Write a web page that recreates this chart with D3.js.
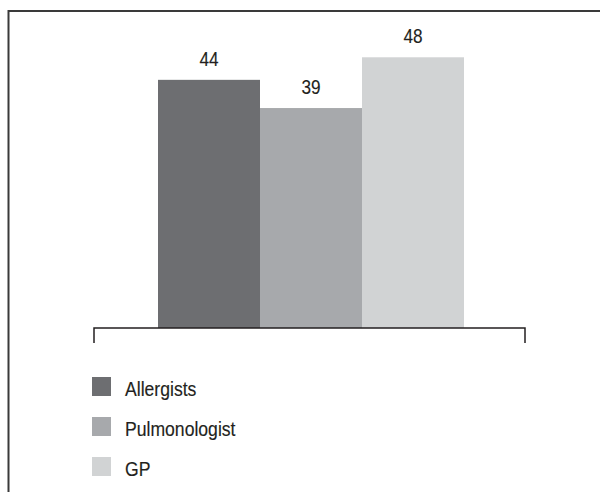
<!DOCTYPE html>
<html><head><meta charset="utf-8">
<script src="https://cdn.jsdelivr.net/npm/d3@7"></script>
<style>
html,body{margin:0;padding:0;background:#fff;}
text{font-family:"Liberation Sans",Arial,sans-serif;fill:#231f20;stroke:#231f20;stroke-width:0.15px;}
</style></head>
<body>
<svg id="c" width="600" height="492"></svg>
<script>
const categories = ["Allergists", "Pulmonologist", "GP"];
const values = [44, 39, 48];
const colors = ["#6d6e71", "#a7a9ac", "#d1d3d4"];

const svg = d3.select("#c");
// frame (top and left edges visible)
svg.append("line").attr("x1",8).attr("x2",600).attr("y1",11).attr("y2",11).attr("stroke","#3a3a3a").attr("stroke-width",2);
svg.append("line").attr("x1",8.5).attr("x2",8.5).attr("y1",10).attr("y2",492).attr("stroke","#3a3a3a").attr("stroke-width",2);

const x = d3.scaleBand().domain(categories).range([158, 464]).padding(0);
const y = d3.scaleLinear().domain([0, 50]).range([328, 46]);
const sx = 0.86;

svg.selectAll("rect.bar").data(categories).enter().append("rect")
  .attr("class","bar")
  .attr("x", d => x(d)).attr("width", x.bandwidth())
  .attr("y", (d,i) => y(values[i])).attr("height", (d,i) => y(0) - y(values[i]))
  .attr("fill", (d,i) => colors[i]);

svg.selectAll("text.val").data(categories).enter().append("text")
  .attr("class","val")
  .attr("transform", (d,i) => `translate(${x(d) + x.bandwidth()/2},${y(values[i]) - 14}) scale(${sx},1)`)
  .attr("text-anchor","middle").attr("font-size", 20)
  .text((d,i) => values[i]);

// axis bracket
const axisPath = d3.path();
axisPath.moveTo(94, 343); axisPath.lineTo(94, 328); axisPath.lineTo(525, 328); axisPath.lineTo(525, 343);
svg.append("path").attr("d", axisPath.toString()).attr("fill","none").attr("stroke","#231f20").attr("stroke-width",1.5);

// legend
const lg = svg.append("g");
categories.forEach((c, i) => {
  const yy = 377 + i*40;
  lg.append("rect").attr("x",92).attr("y",yy).attr("width",19).attr("height",19).attr("fill",colors[i]);
  lg.append("text").attr("transform",`translate(125,${yy+19}) scale(0.88,1)`).attr("font-size",20).text(c);
});
</script>
</body></html>
